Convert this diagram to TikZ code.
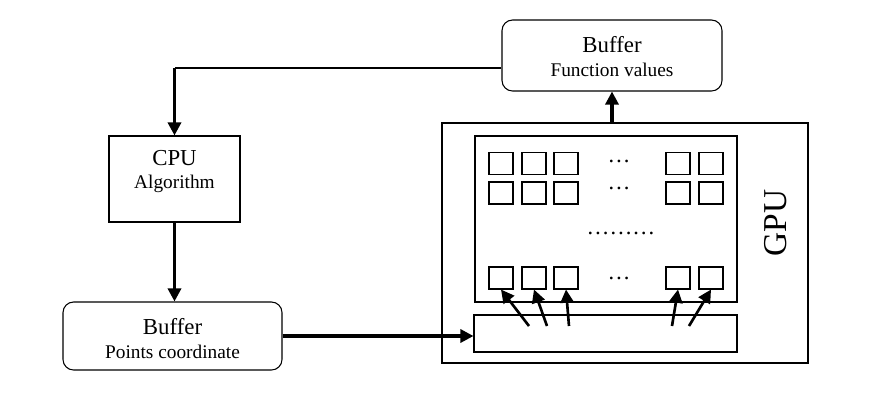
\documentclass[tikz,border=0pt]{standalone}
\usepackage{fontspec}
\setmainfont{Liberation Serif}
\usetikzlibrary{arrows.meta}

\begin{document}
\begin{tikzpicture}[
	box/.style={draw, line width=0.6pt, inner sep=0pt},
	rbox/.style={box, rounded corners=6pt},
	cell/.style={box, minimum width=0.48cm, minimum height=0.44cm},
	flow/.style={line width=1.8pt, -{Triangle[length=7.5pt,width=7.5pt]}},
	head/.style={font=\fontsize{13}{15}\selectfont},
	sub/.style={font=\fontsize{11}{13}\selectfont}
]
	\useasboundingbox (0,0) rectangle (17.86,-8.16);

	\node (fbuf) [rbox, minimum width=4.4cm, minimum height=1.42cm] at (12.24,-1.11) {};
	\node [head] at (12.24,-0.9) {Buffer};
	\node [sub] at (12.24,-1.4) {Function values};

	\node (cpu) [box, minimum width=2.62cm, minimum height=1.72cm] at (3.49,-3.58) {};
	\node [head] at (3.49,-3.16) {CPU};
	\node [sub] at (3.49,-3.68) {Algorithm};

	\node (pbuf) [rbox, minimum width=4.38cm, minimum height=1.36cm] at (3.45,-6.72) {};
	\node [head] at (3.45,-6.54) {Buffer};
	\node [sub] at (3.45,-7.04) {Points coordinate};

	\node (gpu) [box, minimum width=7.32cm, minimum height=4.8cm] at (12.5,-4.86) {};
	\node (inner) [box, minimum width=5.24cm, minimum height=3.32cm] at (12.12,-4.38) {};
	\node (bar) [box, minimum width=5.26cm, minimum height=0.74cm] at (12.11,-6.67) {};
	\node (gpulabel) [rotate=90, font=\fontsize{19}{21}\selectfont] at (15.52,-4.46) {GPU};

	\foreach \r/\y in {1/-3.27, 2/-3.86, 3/-5.56}
		\foreach \c/\x in {1/10.02, 2/10.68, 3/11.32, 4/13.56, 5/14.22}
			\node (s\r\c) [cell] at (\x,\y) {};

	\node (d1) [head] at (12.38,-3.22) {\ldots};
	\node (d2) [head] at (12.38,-3.77) {\ldots};
	\node (d3) [head] at (12.42,-4.66) {\ldots\ldots\ldots};
	\node (d4) [head] at (12.38,-5.56) {\ldots};

	\coordinate (turn) at (3.49,-1.36);
	\draw [line width=0.6pt] (fbuf.west |- turn) -- (turn);
	\draw [flow] (turn) -- (cpu.north);
	\draw [flow] (cpu.south) -- (cpu.south |- pbuf.north);
	\draw [flow] (pbuf.east) -- (pbuf.east -| bar.west);
	\draw [flow] (fbuf.south |- gpu.north) -- (fbuf.south);

	\foreach \c/\sx in {1/10.58, 2/10.94, 3/11.38, 4/13.44, 5/13.78} {
		\coordinate (p\c) at (\sx,-6.52);
		\draw [flow, line width=1.5pt] (p\c) -- (s3\c.south);
	}
\end{tikzpicture}
\end{document}
